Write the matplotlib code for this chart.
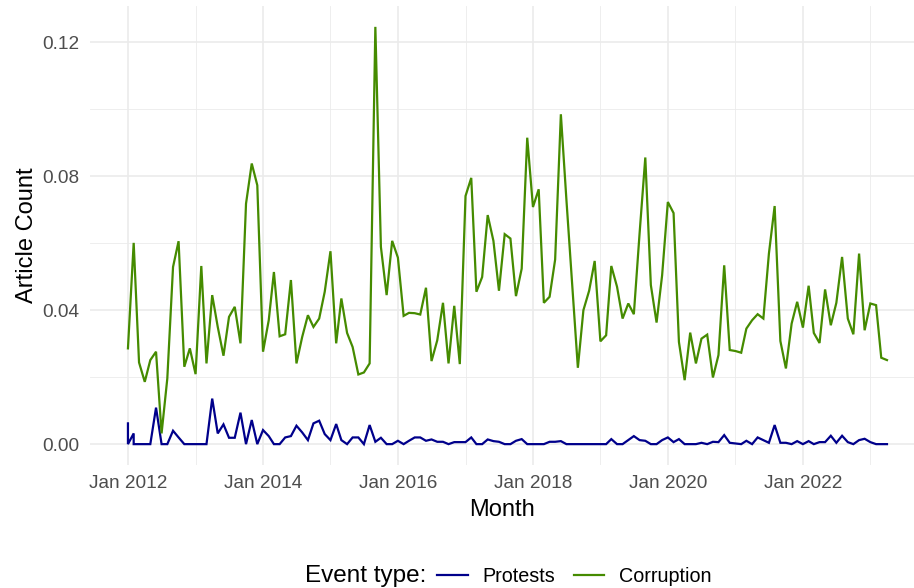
import matplotlib
matplotlib.use("Agg")
import matplotlib.pyplot as plt
import matplotlib.dates as mdates
from matplotlib.lines import Line2D
from matplotlib.ticker import FixedLocator
import pandas as pd
import datetime as dt

# ---------------- data ----------------
months = list(pd.date_range("2012-01-01", "2023-04-01", freq="MS"))

corruption = [
    0.0286, 0.0601, 0.0244, 0.0186, 0.0251, 0.0276, 0.0032, 0.0196, 0.0529, 0.0606, 0.0231, 0.0286,
    0.0209, 0.0532, 0.0241, 0.0445, 0.0350, 0.0264, 0.0380, 0.0410, 0.0301, 0.0718, 0.0838, 0.0773,
    0.0276, 0.0370, 0.0514, 0.0322, 0.0328, 0.0490, 0.0241, 0.0320, 0.0385, 0.0350, 0.0375, 0.0455,
    0.0576, 0.0301, 0.0435, 0.0332, 0.0290, 0.0208, 0.0214, 0.0241, 0.1246, 0.0589, 0.0445, 0.0607,
    0.0557, 0.0383, 0.0392, 0.0391, 0.0387, 0.0467, 0.0248, 0.0310, 0.0422, 0.0241, 0.0413, 0.0239,
    0.0741, 0.0795, 0.0455, 0.0499, 0.0684, 0.0607, 0.0458, 0.0627, 0.0614, 0.0442, 0.0524, 0.0915,
    0.0708, 0.0761, 0.0422, 0.0440, 0.0551, 0.0985, 0.0730, 0.0480, 0.0228, 0.0400, 0.0458, 0.0547,
    0.0307, 0.0325, 0.0532, 0.0470, 0.0375, 0.0420, 0.0388, 0.0629, 0.0856, 0.0475, 0.0363, 0.0504,
    0.0723, 0.0690, 0.0305, 0.0191, 0.0333, 0.0241, 0.0315, 0.0327, 0.0199, 0.0266, 0.0534, 0.0281,
    0.0278, 0.0273, 0.0345, 0.0370, 0.0388, 0.0375, 0.0569, 0.0711, 0.0308, 0.0226, 0.0360, 0.0425,
    0.0348, 0.0473, 0.0332, 0.0302, 0.0462, 0.0355, 0.0422, 0.0559, 0.0375, 0.0328, 0.0569, 0.0340,
    0.0420, 0.0415, 0.0258, 0.0251,
]

# Protests: the first two months each carry two records
protest_months = [months[0], months[0], months[1], months[1]] + months[2:]
protests = [
    0.0062, 0.0, 0.0032, 0.0,
    0.0, 0.0, 0.0, 0.0109, 0.0, 0.0, 0.0040, 0.0020, 0.0, 0.0,
    0.0, 0.0, 0.0, 0.0136, 0.0032, 0.0059, 0.0019, 0.0019, 0.0094, 0.0, 0.0072, 0.0,
    0.0042, 0.0024, 0.0, 0.0, 0.0020, 0.0024, 0.0055, 0.0035, 0.0012, 0.0062, 0.0070, 0.0030,
    0.0012, 0.0060, 0.0012, 0.0, 0.0020, 0.0020, 0.0, 0.0057, 0.0007, 0.0019, 0.0, 0.0,
    0.0010, 0.0, 0.0010, 0.0020, 0.0020, 0.0010, 0.0014, 0.0007, 0.0007, 0.0, 0.0006, 0.0006,
    0.0006, 0.0020, 0.0, 0.0, 0.0014, 0.0009, 0.0007, 0.0, 0.0, 0.0010, 0.0015, 0.0,
    0.0, 0.0, 0.0, 0.0007, 0.0007, 0.0009, 0.0, 0.0, 0.0, 0.0, 0.0, 0.0,
    0.0, 0.0, 0.0015, 0.0, 0.0, 0.0012, 0.0024, 0.0012, 0.0010, 0.0, 0.0, 0.0012,
    0.0020, 0.0006, 0.0015, 0.0, 0.0, 0.0, 0.0004, 0.0, 0.0007, 0.0006, 0.0027, 0.0004,
    0.0002, 0.0, 0.0010, 0.0, 0.0020, 0.0012, 0.0004, 0.0057, 0.0004, 0.0004, 0.0, 0.0009,
    0.0, 0.0009, 0.0, 0.0006, 0.0006, 0.0025, 0.0004, 0.0025, 0.0006, 0.0, 0.0012, 0.0016,
    0.0006, 0.0, 0.0, 0.0,
]

series_names = ["Protests", "Corruption"]
series_colors = ["#00008B", "#458B00"]
legend_title = "Event type:"
x_label = "Month"
y_label = "Article Count"
y_ticks = [0.00, 0.04, 0.08, 0.12]
y_minor = [0.02, 0.06, 0.10]

# ---------------- figure ----------------
plt.rcParams["font.family"] = ["Liberation Sans", "DejaVu Sans"]
W, H = 914, 588
fig = plt.figure(figsize=(W / 100, H / 100), dpi=100)
ax = fig.add_axes([90 / W, 1 - 465 / H, 1 - 90 / W, (465 - 6) / H])

ax.plot(protest_months, protests, color=series_colors[0], lw=1.6, solid_joinstyle="miter", zorder=3)
ax.plot(months, corruption, color=series_colors[1], lw=1.6, solid_joinstyle="miter", zorder=3)

# x limits (ggplot-style expansion on the left)
d0 = mdates.date2num(months[0])
d1 = mdates.date2num(months[-1])
span = d1 - d0
ax.set_xlim(d0 - 0.05 * span, d1 + 0.0356 * span)
ymax = max(corruption)
ax.set_ylim(-0.05 * ymax, ymax * 1.05)

major_years = list(range(2012, 2023, 2))
minor_years = list(range(2013, 2024, 2))
ax.xaxis.set_major_locator(FixedLocator([mdates.date2num(dt.datetime(y, 1, 1)) for y in major_years]))
ax.xaxis.set_minor_locator(FixedLocator([mdates.date2num(dt.datetime(y, 1, 1)) for y in minor_years]))
ax.set_xticklabels([f"Jan {y}" for y in major_years])
ax.yaxis.set_major_locator(FixedLocator(y_ticks))
ax.yaxis.set_minor_locator(FixedLocator(y_minor))
ax.set_yticklabels([f"{v:.2f}" for v in y_ticks])

ax.grid(which="major", color="#EBEBEB", lw=1.2, zorder=0)
ax.grid(which="minor", color="#EBEBEB", lw=0.6, zorder=0)
ax.set_axisbelow(True)
for s in ax.spines.values():
    s.set_visible(False)
ax.tick_params(which="both", length=0)
ax.tick_params(axis="x", pad=7, labelsize=13.7, labelcolor="#4D4D4D")
ax.tick_params(axis="y", pad=8, labelsize=13.7, labelcolor="#4D4D4D")

ax.set_xlabel(x_label, fontsize=17, color="black", labelpad=5)
ax.set_ylabel(y_label, fontsize=17, color="black", labelpad=3)

# legend (title on the left, entries horizontal)
fig.text(305 / W, 1 - 576 / H, legend_title, fontsize=17.5, ha="left", va="center")
handles = [Line2D([], [], color=c, lw=1.6) for c in series_colors]
fig.legend(handles, series_names, loc="center left", bbox_to_anchor=(437 / W, 1 - 576 / H),
           ncol=2, frameon=False, fontsize=14.2, handlelength=1.55, handletextpad=0.75,
           columnspacing=0.95, borderpad=0, borderaxespad=0)

fig.savefig("out.png", dpi=100)
